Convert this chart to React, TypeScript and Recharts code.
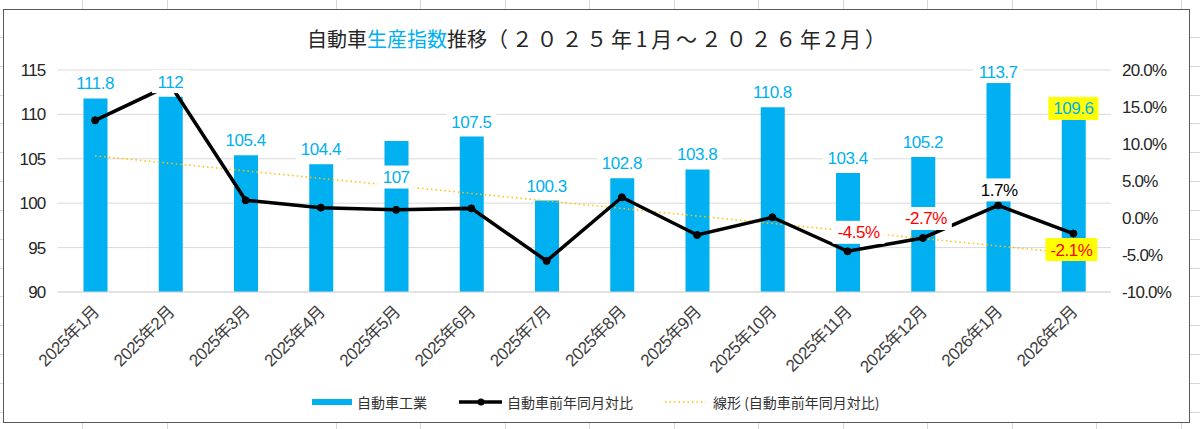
import React from 'react'
import { ComposedChart, Bar, Line, XAxis, YAxis, CartesianGrid, LabelList } from 'recharts'

// ─── データ ────────────────────────────────────────────────────────────────

const months = [
  '2025年1月', '2025年2月', '2025年3月', '2025年4月', '2025年5月', '2025年6月', '2025年7月',
  '2025年8月', '2025年9月', '2025年10月', '2025年11月', '2025年12月', '2026年1月', '2026年2月',
]

// 自動車工業 生産指数
const autoIndex = [111.8, 112, 105.4, 104.4, 107, 107.5, 100.3, 102.8, 103.8, 110.8, 103.4, 105.2, 113.7, 109.6]

// 自動車前年同月対比 (%)
const autoYoY = [13.2, 18.0, 2.4, 1.4, 1.1, 1.3, -5.8, 2.8, -2.3, 0.1, -4.5, -2.7, 1.7, -2.1]

// 線形近似の両端 (%)
const trendYoY: Array<number | null> = [8.4, null, null, null, null, null, null, null, null, null, null, null, null, -4.8]

const leftTicks = [90, 95, 100, 105, 110, 115]
const rightTicks = [-10, -5, 0, 5, 10, 15, 20]

const data = months.map((month, i) => ({
  month,
  index: autoIndex[i],
  yoy: autoYoY[i],
  trend: trendYoY[i],
}))

// ─── 見た目 ────────────────────────────────────────────────────────────────

const BLUE = '#00B0F0'
const TREND = '#FFC000'
const FONT = "'Liberation Sans', Arial, 'Noto Sans CJK JP', sans-serif"
const JP_FONT = "'Noto Sans CJK JP', 'Liberation Sans', sans-serif"

// 棒ラベル: 棒の上端からラベル中心までの距離 (負なら棒の内側)
const BAR_LABEL_OFFSET: Record<number, number> = { 4: -36, 12: 10, 13: 9.5 }
// 前年比ラベル: 表示する点と位置のずらし
const PCT_LABEL_SHIFT: Record<number, [number, number]> = {
  10: [11, -19],
  11: [3, -19.5],
  12: [1, -15.5],
  13: [-2, 16],
}
const HIGHLIGHT = 13

function textWidth(s: string, size = 17): number {
  let w = 0
  for (const c of s) {
    if (c === '.') w += 0.278
    else if (c === '-') w += 0.333
    else if (c === '%') w += 0.889
    else w += 0.556
  }
  return w * size - 0.5 * s.length
}

function BoxLabel({ cx, cy, text, color, bg }: { cx: number; cy: number; text: string; color: string; bg: string }) {
  const w = textWidth(text) + 10
  const h = 23
  return (
    <g>
      <rect x={cx - w / 2} y={cy - h / 2} width={w} height={h} fill={bg} />
      <text
        x={cx}
        y={cy + 6}
        textAnchor="middle"
        fill={color}
        fontSize={17}
        fontFamily={FONT}
        letterSpacing={-0.5}
      >
        {text}
      </text>
    </g>
  )
}

function renderBarLabel(props: any) {
  const { x, y, value, index } = props
  if (x == null || y == null) return null
  const off = BAR_LABEL_OFFSET[index] ?? 15
  return (
    <BoxLabel
      key={`bl-${index}`}
      cx={x}
      cy={y - off}
      text={String(value)}
      color={BLUE}
      bg={index === HIGHLIGHT ? '#FFFF00' : '#FFFFFF'}
    />
  )
}

function renderPctLabel(props: any) {
  const { x, y, value, index } = props
  const shift = PCT_LABEL_SHIFT[index]
  if (!shift || x == null || y == null) return null
  return (
    <BoxLabel
      key={`pl-${index}`}
      cx={x + shift[0]}
      cy={y + shift[1]}
      text={`${Number(value).toFixed(1)}%`}
      color={value < 0 ? '#FF0000' : '#000000'}
      bg={index === HIGHLIGHT ? '#FFFF00' : '#FFFFFF'}
    />
  )
}

function MonthTick({ x, y, payload }: any) {
  return (
    <text
      transform={`translate(${x + 5},${y + 21}) rotate(-45)`}
      textAnchor="end"
      fill="#404040"
      fontSize={17}
      fontFamily={FONT}
      letterSpacing={-0.6}
    >
      {payload.value}
    </text>
  )
}

// ─── 凡例 ──────────────────────────────────────────────────────────────────

function LegendRow() {
  const text: React.CSSProperties = {
    position: 'absolute',
    top: 394,
    fontSize: 14,
    lineHeight: '17px',
    color: '#333',
    fontFamily: JP_FONT,
    whiteSpace: 'nowrap',
  }
  return (
    <>
      <div style={{ position: 'absolute', left: 312, top: 399, width: 40, height: 6, background: BLUE }} />
      <span style={{ ...text, left: 357 }}>自動車工業</span>
      <svg style={{ position: 'absolute', left: 459, top: 396 }} width={44} height={12}>
        <line x1={0} y1={6} x2={43} y2={6} stroke="#000" strokeWidth={3.5} />
        <circle cx={22} cy={6} r={3.5} fill="#000" />
      </svg>
      <span style={{ ...text, left: 507 }}>自動車前年同月対比</span>
      <svg style={{ position: 'absolute', left: 665, top: 396 }} width={42} height={12}>
        <line x1={0} y1={6} x2={41} y2={6} stroke={TREND} strokeWidth={1.5} strokeDasharray="1.5 3" />
      </svg>
      <span style={{ ...text, left: 713 }}>線形 (自動車前年同月対比)</span>
    </>
  )
}

// ─── 本体 ──────────────────────────────────────────────────────────────────

export default function App() {
  const sheetGrid =
    'repeating-linear-gradient(to right, transparent 0px, transparent 83.5px, #d6d6d6 83.5px, #d6d6d6 84.5px), ' +
    'repeating-linear-gradient(to bottom, transparent 0px, transparent 27.84px, #d6d6d6 27.84px, #d6d6d6 28.84px)'

  return (
    <div
      style={{
        position: 'absolute',
        left: 0,
        top: 0,
        width: 1200,
        height: 429,
        overflow: 'hidden',
        background: '#fff',
        backgroundImage: sheetGrid,
        backgroundPosition: '-1px 9px',
      }}
    >
      {/* グラフ枠 */}
      <div
        style={{
          position: 'absolute',
          left: 3,
          top: 9,
          width: 1185,
          height: 412,
          border: '1.5px solid #595959',
          background: '#fff',
        }}
      />

      {/* タイトル */}
      <div
        style={{
          position: 'absolute',
          left: 307,
          top: 27,
          fontSize: 20,
          lineHeight: '22px',
          color: '#262626',
          fontFamily: JP_FONT,
          whiteSpace: 'nowrap',
        }}
      >
        自動車<span style={{ color: BLUE }}>生産指数</span>推移
        <span style={{ fontSize: 21, letterSpacing: 3.8 }}>（２０２５年1月～２０２６年2月）</span>
      </div>

      <div style={{ position: 'absolute', left: 0, top: 0 }}>
        <ComposedChart
          width={1200}
          height={429}
          data={data}
          margin={{ top: 70, right: 0, bottom: 57, left: 0 }}
        >
          <CartesianGrid yAxisId="left" vertical={false} stroke="#d9d9d9" />
          <XAxis
            dataKey="month"
            interval={0}
            height={80}
            axisLine={{ stroke: '#d9d9d9' }}
            tickLine={false}
            tickSize={0}
            tickMargin={0}
            tick={<MonthTick />}
          />
          <YAxis
            yAxisId="left"
            domain={[90, 115]}
            ticks={leftTicks}
            allowDataOverflow
            width={57.5}
            axisLine={false}
            tickLine={false}
            tickSize={0}
            tickMargin={12}
            tick={{ fill: '#262626', fontSize: 17, fontFamily: FONT, letterSpacing: -0.8 }}
          />
          <YAxis
            yAxisId="right"
            orientation="right"
            domain={[-10, 20]}
            ticks={rightTicks}
            allowDataOverflow
            width={89}
            axisLine={false}
            tickLine={false}
            tickSize={0}
            tickMargin={11}
            tickFormatter={(v: number) => `${v.toFixed(1)}%`}
            tick={{ fill: '#262626', fontSize: 17, fontFamily: FONT, letterSpacing: -0.8, textAnchor: 'start' }}
          />
          <Bar yAxisId="left" dataKey="index" fill={BLUE} barSize={24} isAnimationActive={false} />
          <Line
            yAxisId="right"
            dataKey="trend"
            connectNulls
            stroke={TREND}
            strokeWidth={1.5}
            strokeDasharray="1.5 3"
            dot={false}
            activeDot={false}
            isAnimationActive={false}
          />
          <Line
            yAxisId="right"
            dataKey="yoy"
            type="linear"
            stroke="#000"
            strokeWidth={3.5}
            dot={{ r: 3.5, fill: '#000', stroke: '#000', strokeWidth: 1 }}
            activeDot={false}
            isAnimationActive={false}
          >
            <LabelList dataKey="yoy" content={renderPctLabel} />
          </Line>
          {/* 棒ラベルを折れ線の上に描くための透明な系列 */}
          <Line
            yAxisId="left"
            dataKey="index"
            stroke="none"
            dot={false}
            activeDot={false}
            isAnimationActive={false}
          >
            <LabelList dataKey="index" content={renderBarLabel} />
          </Line>
        </ComposedChart>
      </div>

      <LegendRow />
    </div>
  )
}
